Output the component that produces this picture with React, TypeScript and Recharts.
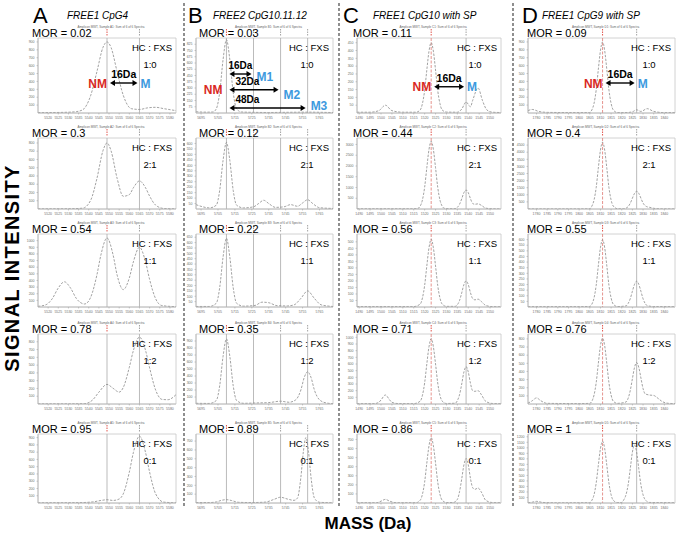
import React from 'react';
import { LineChart, Line, XAxis, YAxis, ReferenceLine, ReferenceArea } from 'recharts';

const FONT = '"Liberation Sans", Arial, Helvetica, sans-serif';
const RED = '#d9291f';
const BLUE = '#3d9ade';
const CURVE = '#8a8a8a';

// ---------- data ----------
const columnLetters = ['A', 'B', 'C', 'D'];
const columnTitles = ['FREE1 CpG4', 'FREE2 CpG10.11.12', 'FREE1 CpG10 with SP', 'FREE1 CpG9 with SP'];
const hcRatios = ['1:0', '2:1', '1:1', '1:2', '0:1'];

const morA = ['0.02', '0.3', '0.54', '0.78', '0.95'];
const morB = ['0.03', '0.12', '0.22', '0.35', '0.89'];
const morC = ['0.11', '0.44', ' 0.56', '0.71', '0.86'];
const morD = ['0.09', '0.4', '0.55', '0.76', '1'];

const sampleA = ['A1', 'A2', 'A3', 'A4', 'A5'];
const sampleB = ['B1', 'B2', 'B3', 'B4', 'B5'];
const sampleC = ['C1', 'C2', 'C3', 'C4', 'C5'];
const sampleD = ['D1', 'D2', 'D3', 'D4', 'D5'];

// mass axes
const domainA = [5515, 5583];
const domainB = [5692, 5773];
const domainC = [1489, 1555];
const domainD = [1776, 1845];
const ticksA = [5520, 5525, 5530, 5535, 5540, 5545, 5550, 5555, 5560, 5565, 5570, 5575, 5580];
const ticksB = [5695, 5705, 5715, 5725, 5735, 5745, 5755, 5765];
const ticksC = [1490, 1495, 1500, 1505, 1510, 1515, 1520, 1525, 1530, 1535, 1540, 1545, 1550];
const ticksD = [1780, 1785, 1790, 1795, 1800, 1805, 1810, 1815, 1820, 1825, 1830, 1835, 1840];

// expected peak masses: NM first, then methylated forms
const peaksA = [5549, 5565];
const peaksB = [5710, 5726, 5742, 5758];
const peaksC = [1523, 1539];
const peaksD = [1811, 1827];

// intensity axes
const yMaxA = [950, 860, 1100, 900, 950];
const yMaxB = [900, 650, 680, 1000, 780];
const yMaxC = [480, 3300, 560, 1050, 760];
const yMaxD = [950, 5000, 650, 860, 1250];
const yTicksA = [
  [100, 200, 300, 400, 500, 600, 700, 800, 900],
  [100, 200, 300, 400, 500, 600, 700, 800],
  [100, 200, 300, 400, 500, 600, 700, 800, 900, 1000],
  [100, 200, 300, 400, 500, 600, 700, 800],
  [100, 200, 300, 400, 500, 600, 700, 800, 900],
];
const yTicksB = [
  [75, 150, 225, 300, 375, 450, 525, 600, 675, 750, 825],
  [50, 100, 150, 200, 250, 300, 350, 400, 450, 500, 550, 600],
  [50, 100, 150, 200, 250, 300, 350, 400, 450, 500, 550, 600, 650],
  [100, 200, 300, 400, 500, 600, 700, 800, 900],
  [100, 200, 300, 400, 500, 600, 700],
];
const yTicksC = [
  [50, 100, 150, 200, 250, 300, 350, 400, 450],
  [500, 1000, 1500, 2000, 2500, 3000],
  [50, 100, 150, 200, 250, 300, 350, 400, 450, 500],
  [100, 200, 300, 400, 500, 600, 700, 800, 900, 1000],
  [100, 200, 300, 400, 500, 600, 700],
];
const yTicksD = [
  [100, 200, 300, 400, 500, 600, 700, 800, 900],
  [500, 1000, 1500, 2000, 2500, 3000, 3500, 4000, 4500],
  [50, 100, 150, 200, 250, 300, 350, 400, 450, 500, 550, 600],
  [100, 200, 300, 400, 500, 600, 700, 800],
  [100, 200, 300, 400, 500, 600, 700, 800, 900, 1000, 1100, 1200],
];

// spectra: [mass, intensity]
const specA1 = [[5515, 5], [5522, 6], [5530, 10], [5534, 18], [5537, 40], [5541, 225], [5544, 520], [5547, 830], [5549, 900], [5551, 830], [5554, 520], [5557, 225], [5561, 55], [5565, 45], [5569, 65], [5573, 72], [5577, 55], [5583, 30]];
const specA2 = [[5515, 2], [5530, 3], [5537, 10], [5541, 108], [5544, 366], [5547, 705], [5549, 800], [5551, 705], [5554, 370], [5557, 154], [5560, 174], [5562, 257], [5565, 340], [5568, 257], [5570, 156], [5573, 46], [5577, 6], [5583, 2]];
const specA3 = [[5515, 10], [5519, 35], [5522, 124], [5525, 287], [5528, 380], [5531, 287], [5534, 124], [5538, 45], [5541, 150], [5544, 480], [5546, 785], [5549, 1040], [5552, 785], [5554, 480], [5557, 262], [5560, 438], [5562, 680], [5565, 900], [5568, 680], [5570, 414], [5573, 122], [5576, 22], [5583, 5]];
const specA4 = [[5515, 2], [5530, 2], [5538, 5], [5542, 54], [5545, 152], [5549, 252], [5552, 202], [5555, 153], [5557, 211], [5560, 472], [5562, 688], [5565, 860], [5568, 688], [5570, 464], [5573, 177], [5576, 60], [5579, 55], [5583, 120]];
const specA5 = [[5515, 3], [5535, 5], [5542, 15], [5546, 35], [5549, 45], [5552, 35], [5555, 55], [5557, 125], [5560, 425], [5562, 695], [5565, 920], [5568, 695], [5570, 425], [5573, 124], [5577, 12], [5583, 3]];

const specB1 = [[5692, 15], [5698, 10], [5702, 12], [5704, 50], [5706, 245], [5708, 640], [5710, 880], [5712, 640], [5714, 245], [5716, 50], [5719, 12], [5726, 8], [5735, 6], [5745, 8], [5758, 10], [5773, 5]];
const specB2 = [[5692, 40], [5696, 20], [5700, 10], [5704, 35], [5706, 170], [5708, 445], [5710, 610], [5712, 445], [5714, 170], [5716, 35], [5720, 10], [5726, 20], [5729, 50], [5732, 80], [5735, 50], [5739, 15], [5744, 20], [5748, 40], [5752, 25], [5755, 55], [5758, 85], [5761, 50], [5765, 12], [5773, 5]];
const specB3 = [[5692, 5], [5700, 5], [5704, 35], [5706, 180], [5708, 465], [5710, 640], [5712, 465], [5714, 180], [5716, 35], [5720, 8], [5727, 15], [5731, 45], [5735, 40], [5740, 12], [5746, 10], [5750, 20], [5754, 80], [5758, 150], [5762, 80], [5766, 20], [5773, 5]];
const specB4 = [[5692, 10], [5700, 8], [5704, 50], [5706, 260], [5708, 680], [5710, 930], [5712, 680], [5714, 260], [5716, 50], [5720, 10], [5728, 15], [5735, 20], [5742, 40], [5747, 25], [5751, 60], [5754, 200], [5756, 380], [5758, 460], [5760, 380], [5762, 200], [5765, 60], [5769, 15], [5773, 5]];
const specB5 = [[5692, 5], [5700, 5], [5704, 12], [5707, 30], [5710, 38], [5713, 28], [5717, 8], [5725, 5], [5733, 10], [5738, 40], [5742, 65], [5746, 45], [5750, 30], [5752, 56], [5754, 290], [5755.5, 585], [5757, 740], [5758.5, 585], [5760, 290], [5762, 56], [5765, 8], [5773, 3]];

const specC1 = [[1489, 5], [1495, 5], [1499, 15], [1502, 50], [1505, 15], [1510, 5], [1516, 5], [1518, 20], [1519, 61], [1520, 144], [1521, 275], [1522, 396], [1523, 450], [1524, 396], [1525, 275], [1526, 144], [1527, 61], [1528, 20], [1530, 6], [1535, 5], [1537, 25], [1539, 70], [1541, 40], [1542, 80], [1544.5, 160], [1546.5, 80], [1548.5, 20], [1551, 5], [1555, 3]];
const specC2 = [[1489, 10], [1500, 10], [1515, 10], [1517, 35], [1518, 138], [1519, 425], [1520, 1010], [1521, 1920], [1522, 2770], [1523, 3150], [1524, 2770], [1525, 1920], [1526, 1010], [1527, 425], [1528, 138], [1529, 35], [1531, 12], [1534, 15], [1535, 75], [1536, 220], [1537, 475], [1538, 760], [1539, 880], [1540, 760], [1541, 480], [1542, 260], [1543, 220], [1544.5, 240], [1546, 170], [1548, 40], [1551, 10], [1555, 5]];
const specC3 = [[1489, 3], [1515, 3], [1518, 23], [1519, 70], [1520, 165], [1521, 315], [1522, 455], [1523, 520], [1524, 455], [1525, 315], [1526, 165], [1527, 70], [1528, 23], [1530, 5], [1534, 5], [1535, 17], [1536, 50], [1537, 108], [1538, 172], [1539, 200], [1540, 172], [1541, 110], [1542, 65], [1543, 55], [1544.5, 60], [1546, 42], [1548, 12], [1551, 3], [1555, 2]];
const specC4 = [[1489, 5], [1497, 5], [1499, 25], [1500, 60], [1502, 135], [1504, 60], [1505, 25], [1508, 6], [1515, 5], [1518, 43], [1519, 132], [1520, 315], [1521, 600], [1522, 860], [1523, 980], [1524, 860], [1525, 600], [1526, 315], [1527, 132], [1528, 45], [1530, 8], [1534, 12], [1535, 50], [1536, 140], [1537, 300], [1538, 480], [1539, 560], [1540, 480], [1541, 310], [1542, 200], [1543, 190], [1544.5, 200], [1546, 140], [1548, 40], [1551, 8], [1555, 5]];
const specC5 = [[1489, 3], [1498, 3], [1500, 20], [1502, 40], [1504, 20], [1507, 3], [1516, 3], [1518, 32], [1519, 97], [1520, 230], [1521, 440], [1522, 630], [1523, 720], [1524, 630], [1525, 440], [1526, 230], [1527, 97], [1528, 32], [1530, 5], [1533, 5], [1535, 40], [1536, 125], [1537, 265], [1538, 420], [1539, 490], [1540, 420], [1541, 270], [1542, 170], [1543, 150], [1544.5, 165], [1546, 120], [1548, 30], [1551, 5], [1555, 3]];

const specD1 = [[1776, 30], [1778, 45], [1781, 20], [1785, 8], [1800, 5], [1805, 5], [1806, 40], [1807, 122], [1808, 290], [1809, 550], [1810, 790], [1811, 900], [1812, 790], [1813, 550], [1814, 290], [1815, 122], [1816, 40], [1818, 5], [1822, 5], [1825, 15], [1827, 40], [1829, 20], [1832, 55], [1835, 20], [1840, 5], [1845, 5]];
const specD2 = [[1776, 5], [1800, 5], [1805, 20], [1806, 210], [1807, 635], [1808, 1500], [1809, 2870], [1810, 4140], [1811, 4700], [1812, 4140], [1813, 2870], [1814, 1500], [1815, 635], [1816, 210], [1818, 20], [1821, 10], [1822, 55], [1823, 170], [1824, 400], [1825, 760], [1826, 1100], [1827, 1250], [1828, 1100], [1829, 760], [1830, 420], [1831, 230], [1832, 150], [1833, 120], [1835, 50], [1838, 10], [1845, 5]];
const specD3 = [[1776, 3], [1800, 3], [1805, 5], [1806, 26], [1807, 81], [1808, 192], [1809, 366], [1810, 528], [1811, 600], [1812, 528], [1813, 366], [1814, 192], [1815, 81], [1816, 26], [1818, 4], [1822, 10], [1823, 31], [1824, 74], [1825, 140], [1826, 202], [1827, 230], [1828, 202], [1829, 140], [1830, 74], [1831, 31], [1832, 12], [1835, 4], [1845, 3]];
const specD4 = [[1776, 10], [1778, 40], [1780, 75], [1782, 40], [1785, 8], [1800, 5], [1805, 8], [1806, 35], [1807, 110], [1808, 260], [1809, 495], [1810, 715], [1811, 810], [1812, 715], [1813, 495], [1814, 260], [1815, 110], [1816, 35], [1818, 8], [1822, 25], [1823, 70], [1824, 165], [1825, 310], [1826, 450], [1827, 510], [1828, 450], [1829, 320], [1830, 190], [1831, 125], [1833, 110], [1835, 105], [1837, 70], [1839, 30], [1842, 8], [1845, 5]];
const specD5 = [[1776, 5], [1778, 15], [1780, 30], [1783, 10], [1790, 3], [1805, 5], [1806, 50], [1807, 150], [1808, 360], [1809, 680], [1810, 985], [1811, 1120], [1812, 985], [1813, 680], [1814, 360], [1815, 150], [1816, 50], [1818, 8], [1820, 10], [1821, 60], [1822, 150], [1823, 330], [1824, 620], [1825, 920], [1826, 1050], [1827, 920], [1828, 620], [1829, 330], [1830, 150], [1831, 60], [1833, 10], [1845, 5]];

// mass-shift arrows in the top row (intensity level of each arrow)
const arrowLevelA = [380];
const arrowLevelB = [468, 279, 60];
const arrowLevelC = [168];
const arrowLevelD = [380];
const arrowTextA = ['16Da'];
const arrowTextB = ['16Da', '32Da', '48Da'];
const arrowTextC = ['16Da'];
const arrowTextD = ['16Da'];
const endLabelA = ['M'];
const endLabelB = ['M1', 'M2', 'M3'];
const endLabelC = ['M'];
const endLabelD = ['M'];

// grouped lookups
const morValues = [morA, morB, morC, morD];
const samples = [sampleA, sampleB, sampleC, sampleD];
const domains = [domainA, domainB, domainC, domainD];
const massTicks = [ticksA, ticksB, ticksC, ticksD];
const peakMasses = [peaksA, peaksB, peaksC, peaksD];
const yMaxes = [yMaxA, yMaxB, yMaxC, yMaxD];
const yTicks = [yTicksA, yTicksB, yTicksC, yTicksD];
const spectra = [
  [specA1, specA2, specA3, specA4, specA5],
  [specB1, specB2, specB3, specB4, specB5],
  [specC1, specC2, specC3, specC4, specC5],
  [specD1, specD2, specD3, specD4, specD5],
];
const arrowLevels = [arrowLevelA, arrowLevelB, arrowLevelC, arrowLevelD];
const arrowTexts = [arrowTextA, arrowTextB, arrowTextC, arrowTextD];
const endLabels = [endLabelA, endLabelB, endLabelC, endLabelD];

// ---------- layout ----------
const colLeft = [38, 196, 357, 528];
const colRight = [176, 333, 501, 675];
const rowTop = [38, 138, 234, 334, 434];
const rowBottom = [113, 209, 307, 404, 503];
const morX = [32, 199, 353, 527];
const letterX = [33, 188, 343, 522];
const titleX = [67, 213, 373, 542];
const dividerX = [184, 339, 513];
const endLabelDy = [[4.5], [6.5, 9.5, 1.5], [4.5], [4.5]];

const Y_AXIS_W = 14;
const TOP_PAD = 12;
const X_AXIS_H = 8;

const markerShape = (color: string, redInner: boolean) => (p: any) => {
  const top = Math.min(p.y1, p.y2);
  const bottom = Math.max(p.y1, p.y2);
  const x = p.x1;
  return (
    <g>
      <line
        x1={x} x2={x} y1={top} y2={bottom}
        stroke={redInner ? '#e07a72' : '#a9a9a9'}
        strokeWidth={0.8}
        strokeDasharray={redInner ? '3 1.5' : undefined}
      />
      <line x1={x} x2={x} y1={top - 9} y2={top - 2} stroke={color} strokeWidth={0.8} strokeDasharray="1.5 1" />
    </g>
  );
};

const arrowShape = (col: number, k: number) => (p: any) => {
  const xa = Math.min(p.x1, p.x2);
  const xb = Math.max(p.x1, p.x2);
  const y = p.y1;
  const s = xa + 3;
  const e = xb - 2;
  const isB = col === 1;
  return (
    <g fontFamily={FONT} fontWeight="bold">
      <line x1={s + 3} x2={e - 3} y1={y} y2={y} stroke="#000" strokeWidth={1.4} />
      <polygon points={`${s},${y} ${s + 5},${y - 3} ${s + 5},${y + 3}`} fill="#000" />
      <polygon points={`${e},${y} ${e - 5},${y - 3} ${e - 5},${y + 3}`} fill="#000" />
      <text
        x={isB ? s + (k === 0 ? -1 : 6) : (s + e) / 2}
        y={y - 5}
        textAnchor={isB ? 'start' : 'middle'}
        fontSize={isB ? 10 : 10.5}
        fill="#000"
      >
        {arrowTexts[col][k]}
      </text>
      {(!isB || k === 1) && (
        <text x={isB ? xa - 4 : xa} y={y + 4.5} textAnchor="end" fontSize={12} fill={RED}>
          NM
        </text>
      )}
      <text x={xb + (isB ? 3 : 1)} y={y + endLabelDy[col][k]} fontSize={12} fill={BLUE}>
        {endLabels[col][k]}
      </text>
    </g>
  );
};

function Panel({ col, row }: { col: number; row: number }) {
  const left = colLeft[col];
  const right = colRight[col];
  const top = rowTop[row];
  const bottom = rowBottom[row];
  const dom = domains[col];
  const yMax = yMaxes[col][row];
  const data = spectra[col][row].map(([m, i]) => ({ m, i }));
  const [nm, ...mods] = peakMasses[col];
  const spPanel = col >= 2;
  const tick = { fontSize: 3.5, fill: '#6f6f6f', fontFamily: FONT };
  const tl = { stroke: '#9a9a9a', strokeWidth: 0.5 };
  const al = { stroke: '#b8b8b8', strokeWidth: 0.8 };

  return (
    <div style={{ position: 'absolute', left: left - Y_AXIS_W, top: top - TOP_PAD }}>
      <LineChart
        width={right - left + Y_AXIS_W + 1}
        height={bottom - top + TOP_PAD + X_AXIS_H}
        data={data}
        margin={{ top: TOP_PAD, right: 1, bottom: 0, left: 0 }}
      >
        <XAxis
          type="number" dataKey="m" domain={dom} ticks={massTicks[col]} interval={0}
          height={X_AXIS_H} tick={tick} tickSize={1.5} tickLine={tl} axisLine={al} allowDataOverflow
        />
        <YAxis
          type="number" domain={[0, yMax]} ticks={yTicks[col][row]} interval={0}
          width={Y_AXIS_W} tick={tick} tickSize={1.5} tickLine={tl} axisLine={al} allowDataOverflow
        />
        <ReferenceArea x1={dom[0]} x2={dom[1]} y1={0} y2={yMax} fill="none" stroke="#c6c6c6" strokeWidth={0.8} />
        <ReferenceLine x={nm} shape={markerShape(RED, spPanel)} />
        {mods.map((m) => (
          <ReferenceLine key={m} x={m} shape={markerShape('#8a8a8a', false)} />
        ))}
        <Line
          type="monotone" dataKey="i" stroke={CURVE} strokeWidth={0.8} strokeDasharray="2.4 1.4"
          dot={false} activeDot={false} isAnimationActive={false}
        />
        {row === 0 &&
          arrowLevels[col].map((y, k) => (
            <ReferenceLine
              key={`arrow-${k}`}
              segment={[{ x: nm, y }, { x: mods[k], y }]}
              shape={arrowShape(col, k)}
            />
          ))}
      </LineChart>
    </div>
  );
}

export default function App() {
  const cols = [0, 1, 2, 3];
  const rows = [0, 1, 2, 3, 4];
  return (
    <div style={{ position: 'absolute', left: 0, top: 0, width: 679, height: 539, background: '#fff', fontFamily: FONT }}>
      {cols.map((c) => rows.map((r) => <Panel key={`${c}-${r}`} col={c} row={r} />))}
      <svg width={679} height={539} style={{ position: 'absolute', left: 0, top: 0, pointerEvents: 'none' }} fontFamily={FONT}>
        {dividerX.map((x) => (
          <line key={x} x1={x} x2={x} y1={3} y2={508} stroke="#333" strokeWidth={1.1} strokeDasharray="3 2" />
        ))}
        {columnLetters.map((L, c) => (
          <text key={L} x={letterX[c]} y={23} fontSize={22} fill="#000">{L}</text>
        ))}
        {columnTitles.map((t, c) => (
          <text key={t} x={titleX[c]} y={19} fontSize={10} fontStyle="italic" fill="#000">{t}</text>
        ))}
        {cols.map((c) =>
          rows.map((r) => (
            <g key={`t-${c}-${r}`}>
              <text x={(colLeft[c] + colRight[c]) / 2 + 4} y={rowTop[r] - 10.5} fontSize={3} fill="#666" textAnchor="middle">
                {`Amplicon MWT, Sample ${samples[c][r]}: Sum of 6 of 6 Spectra`}
              </text>
              <text x={morX[c]} y={rowTop[r] - 1} fontSize={11} fill="#000">{`MOR = ${morValues[c][r]}`}</text>
              <text x={colRight[c] - 4} y={rowTop[r] + 13} fontSize={9.5} textAnchor="end" fill="#000">HC : FXS</text>
              <text x={colRight[c] - 26} y={rowTop[r] + 30} fontSize={9.5} textAnchor="middle" fill="#000">{hcRatios[r]}</text>
            </g>
          ))
        )}
        <text
          transform="translate(19,268) rotate(-90)"
          textAnchor="middle"
          fontSize={20}
          fontWeight="bold"
          letterSpacing={1.4}
          fill="#000"
        >
          SIGNAL INTENSITY
        </text>
        <text x={368} y={529} textAnchor="middle" fontSize={17} fontWeight="bold" fill="#000">MASS (Da)</text>
      </svg>
    </div>
  );
}
